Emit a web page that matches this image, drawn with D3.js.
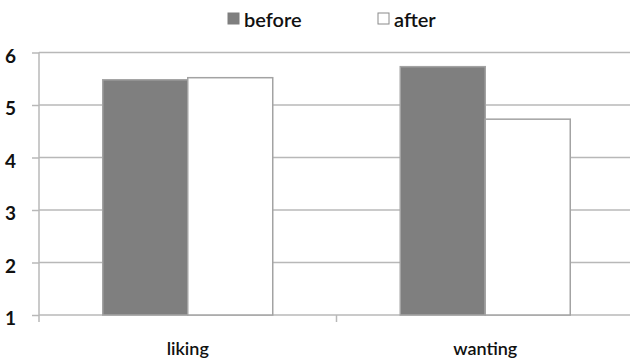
<!DOCTYPE html>
<html>
<head>
<meta charset="utf-8">
<script src="https://cdn.jsdelivr.net/npm/d3@7"></script>
<style>
  html, body { margin: 0; padding: 0; background: #fff; }
  svg { display: block; }
  text { font-family: Lato, "Open Sans", sans-serif; fill: #111; }
</style>
</head>
<body>
<svg id="chart" width="630" height="362"></svg>
<script>
// Mean ratings per measure, before and after
const categories = ["liking", "wanting"];
const series = ["before", "after"];
const beforeValues = [5.48, 5.73];
const afterValues = [5.52, 4.73];
const yTicks = [1, 2, 3, 4, 5, 6];

const seriesFill = { before: "#7f7f7f", after: "#ffffff" };
const valuesBySeries = { before: beforeValues, after: afterValues };

const svg = d3.select("#chart");
const plot = { left: 39, right: 634, top: 52.5, bottom: 315 };

const y = d3.scaleLinear().domain([1, 6]).range([plot.bottom, plot.top]);
const x0 = d3.scaleBand().domain(categories).range([plot.left, plot.right]).padding(0);
const x1 = d3.scaleBand().domain(series).range([0, x0.bandwidth()]).paddingInner(0).paddingOuter(0.75);

const gridColor = "#b8b8b8";

// Horizontal gridlines
svg.append("g")
  .selectAll("line")
  .data(yTicks.filter(d => d > 1))
  .join("line")
  .attr("x1", plot.left).attr("x2", plot.right)
  .attr("y1", d => y(d)).attr("y2", d => y(d))
  .attr("stroke", gridColor).attr("stroke-width", 1.5);

// Left axis
const yAxis = svg.append("g")
  .attr("transform", `translate(${plot.left},0)`)
  .call(d3.axisLeft(y).tickValues(yTicks).tickSize(7).tickPadding(16).tickFormat(d3.format("d")));
yAxis.select(".domain").attr("stroke", gridColor).attr("stroke-width", 1.5)
  .attr("d", `M0,${plot.top}V${plot.bottom + 7}`);
yAxis.selectAll(".tick line").attr("stroke", gridColor).attr("stroke-width", 1.5);
yAxis.selectAll(".tick text")
  .attr("font-size", 19).attr("font-weight", 700).attr("fill", "#0a0a0a")
  .attr("dy", "0.5em")
  .style("font-family", "Lato, sans-serif");

// Bottom axis: category boundary ticks, labels centered under groups
const xAxisG = svg.append("g").attr("transform", `translate(0,${plot.bottom})`);
xAxisG.append("line")
  .attr("x1", plot.left).attr("x2", plot.right)
  .attr("stroke", gridColor).attr("stroke-width", 1.5);
xAxisG.selectAll("line.cat-tick")
  .data(categories.slice(1).map(c => x0(c)).concat([plot.right]))
  .join("line").attr("class", "cat-tick")
  .attr("x1", d => d).attr("x2", d => d)
  .attr("y1", 0).attr("y2", 7)
  .attr("stroke", gridColor).attr("stroke-width", 1.5);
xAxisG.selectAll("text")
  .data(categories)
  .join("text")
  .attr("x", d => x0(d) + x0.bandwidth() / 2)
  .attr("y", 40)
  .attr("text-anchor", "middle")
  .attr("font-size", 18)
  .attr("font-weight", 600)
  .text(d => d);

// Bars
const groups = svg.append("g")
  .selectAll("g")
  .data(categories)
  .join("g")
  .attr("transform", d => `translate(${x0(d)},0)`);

groups.selectAll("rect")
  .data((c, i) => series.map(s => ({ s, v: valuesBySeries[s][i] })))
  .join("rect")
  .attr("x", d => x1(d.s))
  .attr("width", x1.bandwidth())
  .attr("y", d => y(d.v))
  .attr("height", d => y(1) - y(d.v))
  .attr("fill", d => seriesFill[d.s])
  .attr("stroke", "#a3a3a3")
  .attr("stroke-width", 1.5);

// Legend
const legend = svg.append("g");
const legendX = [228, 378];
series.forEach((s, i) => {
  legend.append("rect")
    .attr("x", legendX[i]).attr("y", 13)
    .attr("width", 11).attr("height", 11)
    .attr("fill", seriesFill[s])
    .attr("stroke", s === "before" ? "#7f7f7f" : "#8a8a8a")
    .attr("stroke-width", 1);
  legend.append("text")
    .attr("x", legendX[i] + 16).attr("y", 27)
    .attr("font-size", 20)
    .attr("font-weight", 600)
    .text(s);
});
</script>
</body>
</html>
